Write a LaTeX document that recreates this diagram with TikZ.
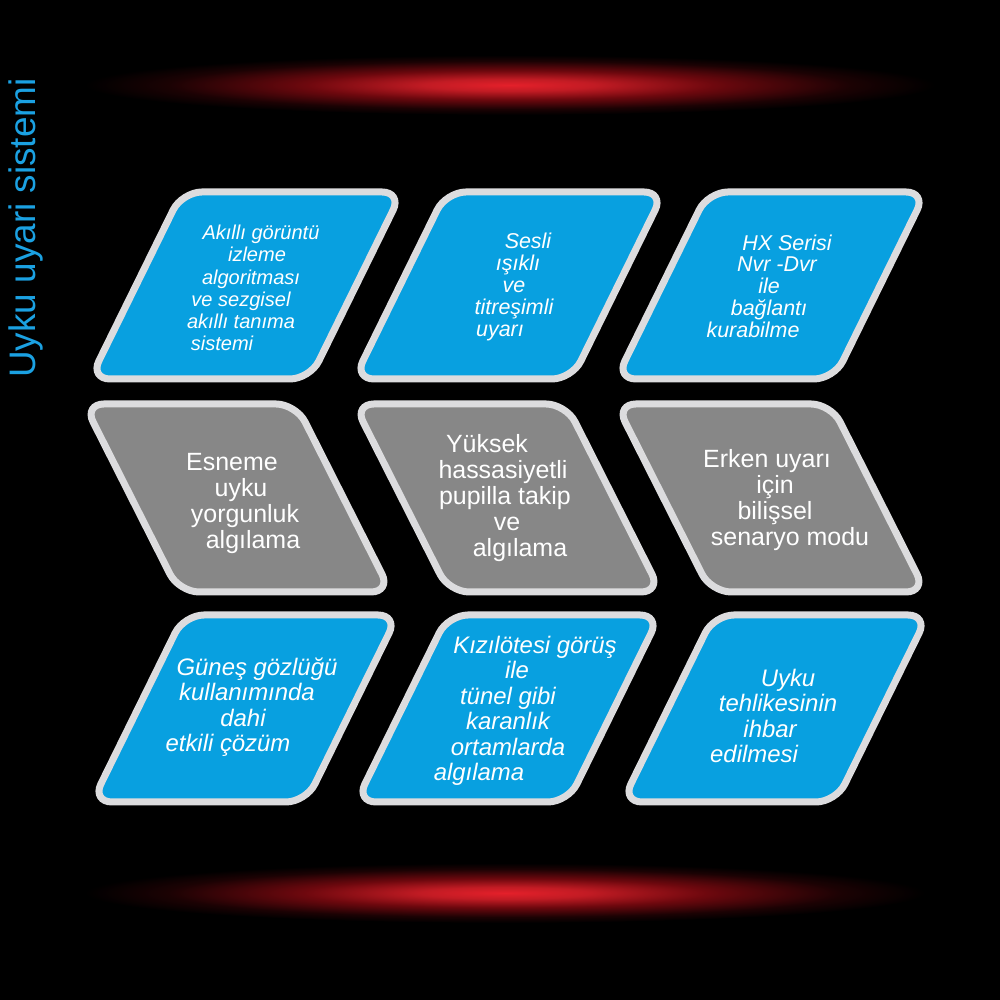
\documentclass[tikz,border=0pt]{standalone}
\usepackage{fontspec}
\setmainfont{Liberation Sans}
\definecolor{kutumavi}{RGB}{8,160,224}
\definecolor{kutugri}{RGB}{135,135,135}
\definecolor{kenar}{RGB}{220,220,222}
\definecolor{baslikmavi}{RGB}{27,161,226}
\definecolor{parlak}{RGB}{228,32,42}
\definecolor{koyukirmizi}{RGB}{110,8,14}
\pgfdeclareradialshading{kirmiziisik}{\pgfpoint{0bp}{0bp}}{color(0bp)=(parlak); color(5bp)=(parlak!85!black); color(12bp)=(koyukirmizi); color(20bp)=(koyukirmizi!25!black); color(25bp)=(black); color(50bp)=(black)}

\begin{document}
\begin{tikzpicture}[
	mavikutu/.style={fill=kutumavi,draw=kenar,line width=0.7mm,rounded corners=2mm},
	grikutu/.style={fill=kutugri,draw=kenar,line width=0.7mm,rounded corners=2mm},
	ust/.style={text=white,align=center,inner sep=0pt,font=\fontsize{6.1}{6.2}\selectfont\itshape},
	orta/.style={text=white,align=center,inner sep=0pt,font=\fontsize{7.1}{7.4}\selectfont},
	alt/.style={text=white,align=center,inner sep=0pt,font=\fontsize{6.8}{7.25}\selectfont\itshape},
	baslik/.style={text=baslikmavi,inner sep=0pt,font=\fontsize{10.5}{12}\selectfont}
	]
	
	\useasboundingbox (0,0) rectangle (10,10);
	\fill[black] (0,0) rectangle (10,10);
	
	%kirmizi isiklar
	\shade[shading=kirmiziisik] (5.1,9.15) ellipse (4.25 and 0.3);
	\shade[shading=kirmiziisik] (5.05,1.07) ellipse (4.2 and 0.3);
	
	\node[baslik,rotate=90] (baslik) at (0.26,7.72) {Uyku uyari sistemi};
	
	%ust sira
	\draw[mavikutu] (1.82,8.08) -- (4.02,8.08) -- (3.10,6.21) -- (0.90,6.21) -- cycle;%kutu 1
	\draw[mavikutu] (4.46,8.08) -- (6.64,8.08) -- (5.72,6.21) -- (3.54,6.21) -- cycle;%kutu 2
	\draw[mavikutu] (7.08,8.08) -- (9.26,8.08) -- (8.34,6.21) -- (6.16,6.21) -- cycle;%kutu 3
	
	%orta sira
	\draw[grikutu] (0.84,5.96) -- (2.96,5.96) -- (3.91,4.08) -- (1.79,4.08) -- cycle;%kutu 4
	\draw[grikutu] (3.54,5.96) -- (5.66,5.96) -- (6.61,4.08) -- (4.49,4.08) -- cycle;%kutu 5
	\draw[grikutu] (6.16,5.96) -- (8.31,5.96) -- (9.26,4.08) -- (7.11,4.08) -- cycle;%kutu 6
	
	%alt sira
	\draw[mavikutu] (1.84,3.85) -- (3.98,3.85) -- (3.06,1.98) -- (0.92,1.98) -- cycle;%kutu 7
	\draw[mavikutu] (4.48,3.85) -- (6.60,3.85) -- (5.68,1.98) -- (3.56,1.98) -- cycle;%kutu 8
	\draw[mavikutu] (7.14,3.85) -- (9.28,3.85) -- (8.36,1.98) -- (6.22,1.98) -- cycle;%kutu 9
	
	%yazilar
	\node[ust,font=\fontsize{5.7}{6.3}\selectfont\itshape] (akilli) at (2.41,7.12) {\hspace*{4mm}Akıllı görüntü\\\hspace*{3.2mm}izleme\\\hspace*{2mm}algoritması\\ve sezgisel\hspace*{3.6mm}\\akıllı tanıma\hspace*{3mm}\\sistemi\hspace*{3.8mm}};
	\node[ust] (sesli) at (5.14,7.13) {\hspace*{2.8mm}Sesli\\\hspace*{0.8mm}ışıklı\\ve\\titreşimli\hspace*{1.8mm}\\uyarı\hspace*{2.8mm}};
	\node[ust] (hx) at (7.69,7.14) {\hspace*{3.6mm}HX Serisi\\\hspace*{1.6mm}Nvr -Dvr\\ile\\bağlantı\hspace*{1.2mm}\\kurabilme\hspace*{3.2mm}};
	
	\node[orta] (esneme) at (2.41,4.96) {Esneme\hspace*{1.8mm}\\uyku\hspace*{2.4mm}\\\hspace*{0.8mm}yorgunluk\\\hspace*{2.4mm}algılama};
	\node[orta] (pupilla) at (5.03,5.02) {Yüksek\hspace*{3.2mm}\\hassasiyetli\hspace*{1.4mm}\\\hspace*{0.4mm}pupilla takip\\\hspace*{0.8mm}ve\\\hspace*{3.4mm}algılama};
	\node[orta] (erken) at (7.75,5.00) {Erken uyarı\hspace*{1.6mm}\\için\hspace*{3mm}\\bilişsel\hspace*{1mm}\\\hspace*{3mm}senaryo modu};
	
	\node[alt] (gunes) at (2.43,2.93) {\hspace*{2.8mm}Güneş gözlüğü\\\hspace*{0.8mm}kullanımında\\dahi\hspace*{0.8mm}\\etkili çözüm\hspace*{3mm}};
	\node[alt] (kizil) at (5.08,2.89) {\hspace*{5.4mm}Kızılötesi görüş\\\hspace*{1.8mm}ile\\tünel gibi\hspace*{1.2mm}\\karanlık\hspace*{1.6mm}\\ortamlarda\hspace*{2mm}\\algılama\hspace*{5.8mm}};
	\node[alt] (ihbar) at (7.70,2.84) {\hspace*{3.6mm}Uyku\\\hspace*{1.6mm}tehlikesinin\\ihbar\hspace*{2mm}\\edilmesi\hspace*{3.2mm}};
	
\end{tikzpicture}
\end{document}
